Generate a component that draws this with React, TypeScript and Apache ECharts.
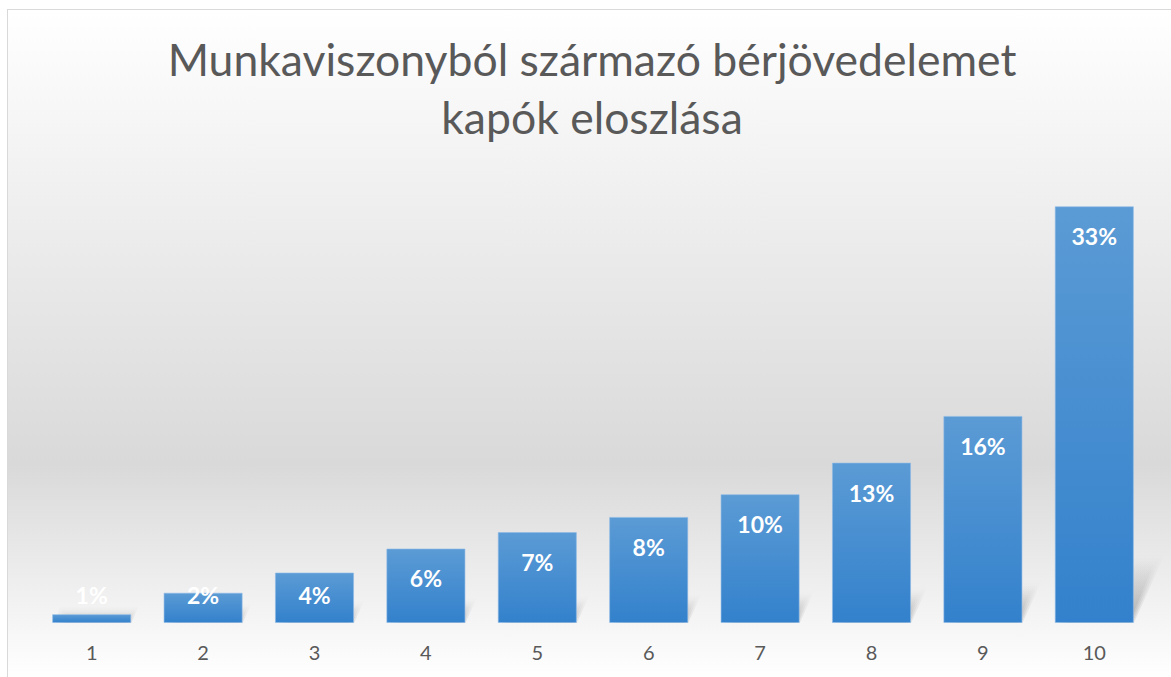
import React, { useEffect, useRef } from "react";
import * as echarts from "echarts";

const titleLines = ["Munkaviszonyból származó bérjövedelemet", "kapók eloszlása"];
const categories = ["1", "2", "3", "4", "5", "6", "7", "8", "9", "10"];
const shares = [0.7, 2.4, 4.0, 5.9, 7.2, 8.4, 10.2, 12.7, 16.4, 33.0];

export default function App() {
  const ref = useRef<HTMLDivElement>(null);
  useEffect(() => {
    if (!ref.current) return;
    const chart = echarts.init(ref.current, null, { renderer: "svg" });
    const barRatio = 0.71;
    chart.setOption({
      animation: false,
      backgroundColor: "transparent",
      title: {
        text: titleLines.join("\n"),
        left: "center",
        top: 14,
        textStyle: {
          fontFamily: "Lato",
          fontSize: 44.5,
          fontWeight: "normal",
          color: "#595959",
          lineHeight: 58,
        },
      },
      grid: { left: 28, right: 26, top: 171, bottom: 55 },
      xAxis: {
        type: "category",
        data: categories,
        axisLine: { show: false },
        axisTick: { show: false },
        axisLabel: {
          color: "#595959",
          fontFamily: "Lato",
          fontSize: 20,
          margin: 19,
        },
      },
      yAxis: {
        type: "value",
        min: 0,
        max: 35,
        show: false,
        splitLine: { show: false },
      },
      series: [
        {
          type: "custom",
          z: 1,
          silent: true,
          data: shares.map((v, i) => [i, v]),
          encode: { x: 0, y: 1 },
          renderItem: (params: any, api: any) => {
            const idx = api.value(0);
            const val = api.value(1);
            const top = api.coord([idx, val]);
            const base = api.coord([idx, 0]);
            const band = api.size([1, 0])[0];
            const w = band * barRatio;
            const H = base[1] - top[1];
            const h = 0.13 * H + 16;
            const dx = h * 0.45;
            const l = base[0] - w / 2;
            const r = base[0] + w / 2;
            const layers = [0, 3, 6, 9];
            return {
              type: "group",
              children: layers.map((s) => ({
                type: "polygon",
                shape: {
                  points: [
                    [l + 4 + s, base[1]],
                    [r - s * 0.5, base[1]],
                    [r + dx - s * 1.2, base[1] - h + s],
                    [l + dx + s, base[1] - h + s],
                  ],
                },
                style: {
                  fill: new echarts.graphic.LinearGradient(0, 1, 0, 0, [
                    { offset: 0, color: "rgba(0,0,0,0.08)" },
                    { offset: 1, color: "rgba(0,0,0,0.0)" },
                  ]),
                },
              })),
            };
          },
        },
        {
          type: "bar",
          z: 2,
          data: shares,
          barWidth: barRatio * 100 + "%",
          itemStyle: {
            color: new echarts.graphic.LinearGradient(0, 0, 0, 1, [
              { offset: 0, color: "#5b9bd5" },
              { offset: 1, color: "#3381cc" },
            ]),
            borderColor: "rgba(140,185,230,0.6)",
            borderWidth: 1,
          },
          label: {
            show: true,
            position: "inside",
            color: "#ffffff",
            fontFamily: "Lato",
            fontWeight: "bold",
            fontSize: 23,
            formatter: (p: any) => Math.round(p.value) + "%",
          },
          labelLayout: (p: any) => {
            const cy = Math.min(p.rect.y + 30, p.rect.y + p.rect.height - 28);
            return {
              x: p.rect.x + p.rect.width / 2,
              y: cy,
              align: "center",
              verticalAlign: "middle",
            };
          },
        },
      ],
    });
    return () => chart.dispose();
  }, []);

  return (
    <div
      style={{
        position: "absolute",
        left: 7,
        top: 9,
        width: 1170,
        height: 670,
        boxSizing: "border-box",
        border: "1px solid #d9d9d9",
        background:
          "linear-gradient(to bottom, #ffffff 0%, #d9d9d9 68%, #ffffff 100%)",
      }}
    >
      <div ref={ref} style={{ width: 1168, height: 668 }} />
    </div>
  );
}
